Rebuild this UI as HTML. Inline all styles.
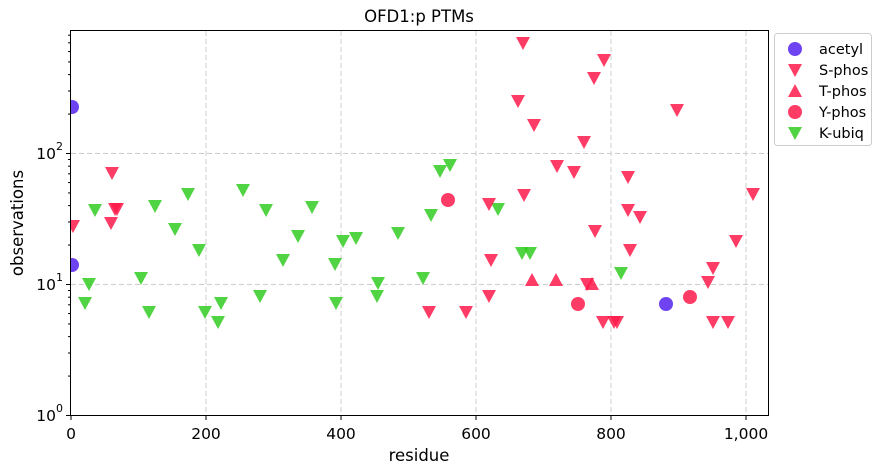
<!DOCTYPE html>
<html><head><meta charset="utf-8"><style>
body{margin:0;background:#fff;}
svg{display:block;font-family:"DejaVu Sans","Liberation Sans",sans-serif;}
</style></head><body>
<svg id="s" width="881" height="474" viewBox="0 0 881 474" xmlns="http://www.w3.org/2000/svg">
<defs><clipPath id="c"><rect x="70.5" y="30.5" width="698" height="385"/></clipPath></defs>
<rect width="881" height="474" fill="#fff"/>
<g stroke="#ccc" stroke-dasharray="5,3" stroke-width="1">
<line x1="206" y1="31" x2="206" y2="415"/><line x1="341" y1="31" x2="341" y2="415"/>
<line x1="476" y1="31" x2="476" y2="415"/><line x1="611" y1="31" x2="611" y2="415"/>
<line x1="746" y1="31" x2="746" y2="415"/>
<line x1="71" y1="153.5" x2="768" y2="153.5"/><line x1="71" y1="284.5" x2="768" y2="284.5"/>
</g>
<g id="m" clip-path="url(#c)"></g>
<rect x="70.5" y="30.5" width="698" height="385" fill="none" stroke="#000" stroke-width="1"/>
<g id="t" stroke="#000" stroke-width="1"></g>
<g font-size="15.5" fill="#000" text-anchor="middle">
<text x="71" y="439">0</text><text x="206" y="439">200</text><text x="341" y="439">400</text>
<text x="476" y="439">600</text><text x="611" y="439">800</text><text x="746" y="439">1,000</text>
</g>
<g font-size="15.5" fill="#000" text-anchor="end">
<text x="56" y="421">10</text><text x="56" y="290">10</text><text x="56" y="159">10</text>
</g>
<g font-size="11" fill="#000">
<text x="56" y="412">0</text><text x="56" y="281">1</text><text x="56" y="150">2</text>
</g>
<text x="419" y="22" font-size="16.5" text-anchor="middle">OFD1:p PTMs</text>
<text x="419" y="461" font-size="16.5" text-anchor="middle">residue</text>
<text x="23" y="223" font-size="16.5" text-anchor="middle" transform="rotate(-90 23 223)">observations</text>
<rect x="774.5" y="33.5" width="97" height="112" rx="3" fill="#fff" stroke="#ccc"/>
<g id="lg"></g>
<g font-size="14.5" fill="#000">
<text x="819" y="54">acetyl</text><text x="819" y="75">S-phos</text><text x="819" y="96">T-phos</text>
<text x="819" y="117">Y-phos</text><text x="819" y="138">K-ubiq</text>
</g>
</svg>
<script>
var NS="http://www.w3.org/2000/svg";
var A="#5522ee",R="#ff1a4a",G="#33cc22";
function el(p,n,a){var e=document.createElementNS(NS,n);for(var k in a)e.setAttribute(k,a[k]);p.appendChild(e);}
function mk(p,t,x,y,c){
 if(t=="o")el(p,"circle",{cx:x,cy:y,r:7,fill:c,"fill-opacity":0.85});
 else if(t=="v")el(p,"polygon",{points:(x-7)+","+(y-6)+" "+(x+7)+","+(y-6)+" "+x+","+(y+7),fill:c,"fill-opacity":0.85});
 else el(p,"polygon",{points:(x-7)+","+(y+6)+" "+(x+7)+","+(y+6)+" "+x+","+(y-7),fill:c,"fill-opacity":0.85});
}
var m=document.getElementById("m");
[[85,303],[89,284],[95,210],[141,278],[149,312],[155,206],[175,229],[188,194],[199,250],[205,312],[218,322],[221,303],[243,190],[260,296],[266,210],[283,260],[298,236],[312,207],[335,264],[336,303],[343,241],[356,238],[378,283],[377,296],[398,233],[423,278],[431,215],[440,171],[450,165],[498,209],[522,253],[530,253],[621,273]].forEach(function(p){mk(m,"v",p[0],p[1],G);});
[[73,226],[112,173],[115,209],[117,209],[111,223],[429,312],[466,312],[489,204],[491,260],[489,296],[518,101],[523,43],[524,195],[534,125],[557,166],[574,172],[584,142],[594,78],[595,231],[604,60],[603,322],[614,322],[617,322],[628,177],[628,210],[630,250],[640,217],[677,110],[708,282],[713,268],[713,322],[728,322],[736,241],[753,194],[587,284]].forEach(function(p){mk(m,"v",p[0],p[1],R);});
[[32,313],[532,280],[556,280],[592,284]].forEach(function(p){mk(m,"^",p[0],p[1],R);});
[[448,200],[578,304],[690,297]].forEach(function(p){mk(m,"o",p[0],p[1],R);});
[[72,107],[72,265],[666,304]].forEach(function(p){mk(m,"o",p[0],p[1],A);});
var t=document.getElementById("t");
[71,206,341,476,611,746].forEach(function(x){el(t,"line",{x1:x,y1:415,x2:x,y2:420});});
[0,1,2].forEach(function(d){var y0=415.5-131*d;el(t,"line",{x1:66,y1:y0,x2:71,y2:y0});
 for(var k=2;k<10;k++){var y=y0-131*Math.log10(k);if(y>30)el(t,"line",{x1:68,y1:y,x2:71,y2:y});}});
var lg=document.getElementById("lg");
mk(lg,"o",795,49,A);mk(lg,"v",795,70,R);mk(lg,"^",795,91,R);mk(lg,"o",795,112,R);mk(lg,"v",795,133,G);
</script>
</body></html>
